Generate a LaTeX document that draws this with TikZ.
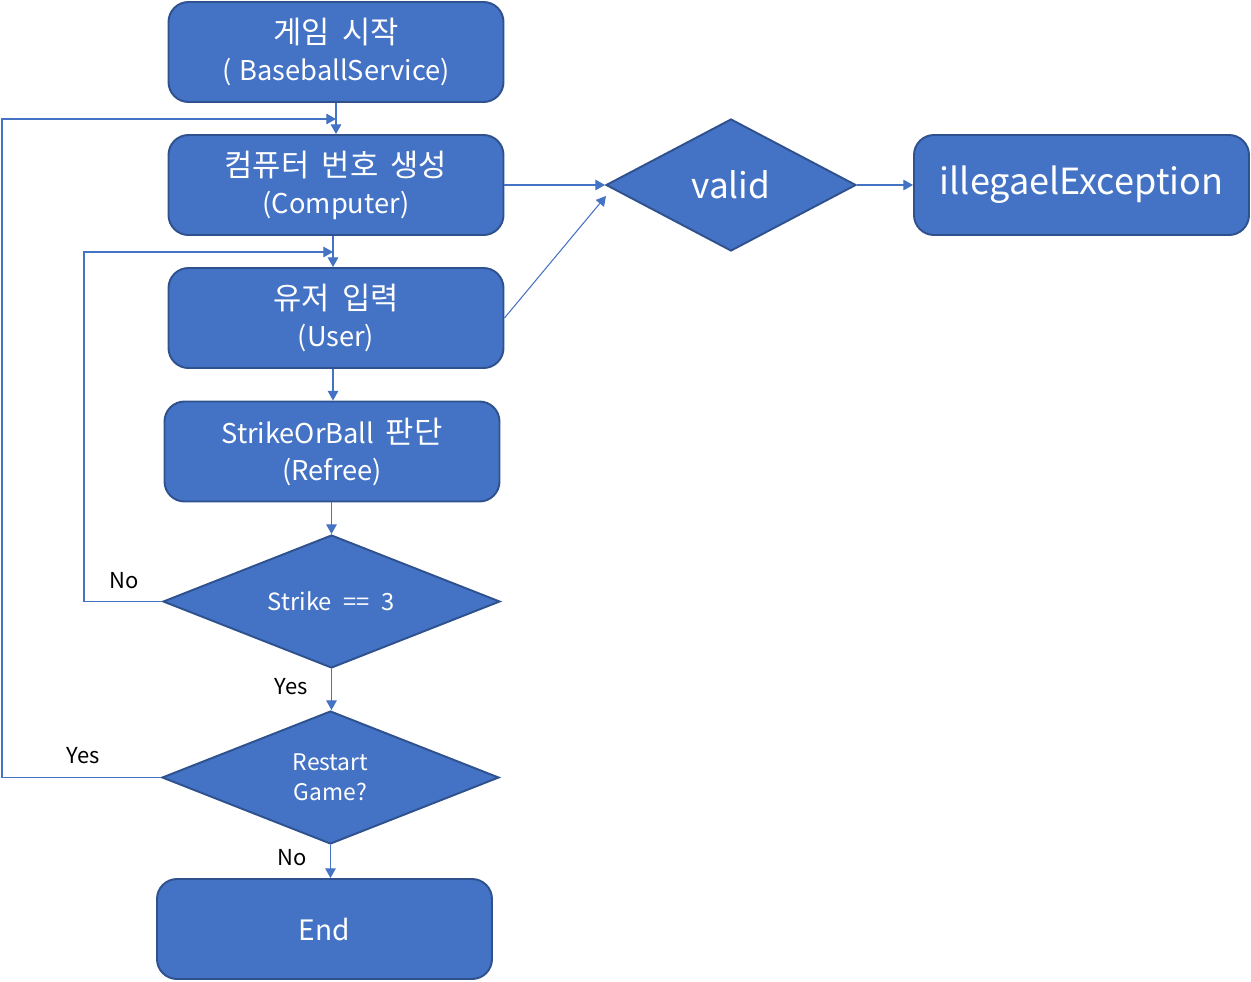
\documentclass[tikz,border=0pt]{standalone}
\usepackage{fontspec}
\setmainfont{Noto Sans CJK KR}
\usetikzlibrary{arrows.meta,shapes.geometric}
\definecolor{fillblue}{HTML}{4472C4}
\definecolor{edgeblue}{HTML}{2F528F}
\newcommand{\kr}[1]{{\fontsize{17.5pt}{21pt}\selectfont\spaceskip=0.4em #1}}
\begin{document}
\begin{tikzpicture}[x=0.02cm,y=-0.02cm,
  box/.style={draw=edgeblue,line width=1.1pt,fill=fillblue,rounded corners=0.4cm,
    minimum width=335*0.02cm,minimum height=100*0.02cm,text=white,align=center,
    font=\fontsize{15.5pt}{21pt}\selectfont,inner sep=0pt},
  dia/.style={draw=edgeblue,line width=1.1pt,fill=fillblue,diamond,aspect=2.52,
    text=white,align=center,inner sep=0pt,minimum width=337*0.02cm,minimum height=133*0.02cm},
  conn/.style={draw=fillblue,line width=0.6pt,-{Triangle[length=5.5pt,width=6pt]}},
  lbl/.style={font=\fontsize{12.5pt}{14pt}\selectfont,text=black}]
\useasboundingbox (0,0) rectangle (1251,981);
\node[box] (start) at (336,52) {\kr{게임 시작}\\(\hspace{0.3em}BaseballService)};
\node[box] (comp) at (336,185) {\kr{컴퓨터 번호 생성}\\(Computer)};
\node[box] (user) at (336,318) {\kr{유저 입력}\\(User)};
\node[box] (ref) at (332,451.5) {StrikeOrBall\hspace{0.2em} \kr{판단}\\(Refree)};
\node[dia,font=\fontsize{13.5pt}{15pt}\selectfont] (strike) at (331.5,601.5) {Strike\hspace{0.5em}==\hspace{0.5em}3};
\node[dia,font=\fontsize{13pt}{17pt}\selectfont] (restart) at (330.5,777.5) {Restart\\Game?};
\node[box,font=\fontsize{16pt}{20pt}\selectfont] (end) at (324.5,929) {End};
\node[dia,minimum width=250*0.02cm,minimum height=132*0.02cm,aspect=1.9,
  font=\fontsize{20pt}{24pt}\selectfont] (valid) at (731,185) {\raisebox{-2.5pt}{valid}};
\node[box,font=\fontsize{20.5pt}{24pt}\selectfont] (exc) at (1081.5,185) {\raisebox{-5pt}{illegaelException}};
\coordinate (j1) at (336,119);
\coordinate (j2) at (333,252);
\draw[conn] (start.south -| j1) -- (comp.north -| j1);
\draw[conn] (comp.south -| j2) -- (user.north -| j2);
\draw[conn] (user.south -| 333,0) -- (ref.north -| 333,0);
\draw[conn] (ref.south -| 331.5,0) -- (strike.north);
\draw[conn] (strike.south) -- (restart.north -| 331.5,0);
\draw[conn] (restart.south) -- (end.north -| 330.5,0);
\draw[conn] (restart.west) -- (2,777.5) -- (2,119) -- (j1);
\draw[conn] (strike.west) -- (84,601.5) -- (84,252) -- (j2);
\draw[conn] (comp.east) -- (valid.west);
\draw[conn] (user.east) -- (606,196);
\draw[conn] (valid.east) -- (exc.west);
\node[lbl] (lno1) at (124,581) {No};
\node[lbl] (lyes1) at (291,687) {Yes};
\node[lbl] (lyes2) at (83,756) {Yes};
\node[lbl] (lno2) at (292,858) {No};
\end{tikzpicture}
\end{document}
